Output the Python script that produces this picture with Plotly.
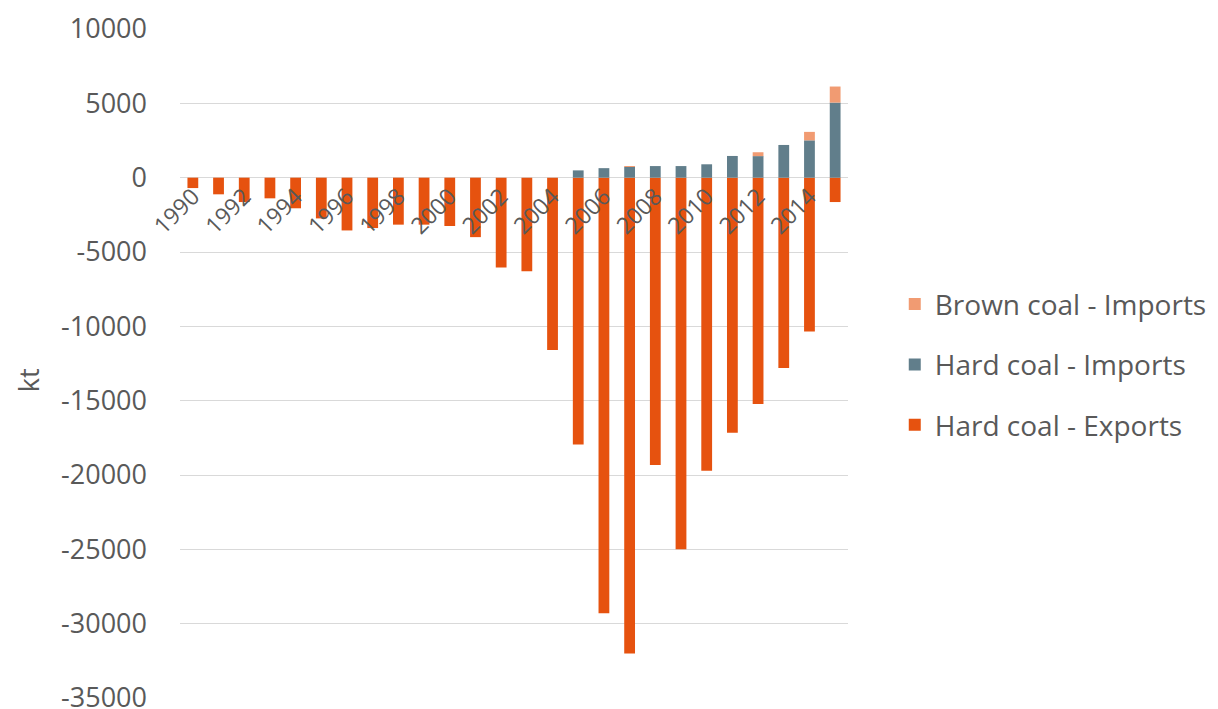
import plotly.graph_objects as go

years = list(range(1990, 2016))
hard_exports = [-700, -1120, -1640, -1390, -2060, -2740, -3550, -3390, -3160, -3160,
                -3250, -4000, -6040, -6300, -11600, -17950, -29300, -32000, -19320, -24990,
                -19720, -17160, -15230, -12810, -10340, -1640]
hard_imports = [0, 0, 0, 0, 0, 0, 0, 0, 0, 0,
                0, 0, 0, 0, 0, 490, 640, 720, 780, 780,
                900, 1460, 1450, 2200, 2510, 5050]
brown_imports = [0, 0, 0, 0, 0, 0, 0, 0, 0, 0,
                 0, 0, 0, 0, 0, 0, 0, 60, 0, 0,
                 0, 0, 260, 0, 570, 1080]
tick_years = list(range(1990, 2016, 2))
y_ticks = [10000, 5000, 0, -5000, -10000, -15000, -20000, -25000, -30000, -35000]

C_EXP = "#E6520F"
C_HARD = "#617E8B"
C_BROWN = "#F19B72"
TXT = "#595959"
FONT = "Open Sans, Noto Sans, sans-serif"

fig = go.Figure()
fig.add_trace(go.Bar(x=years, y=hard_exports, name="Hard coal - Exports",
                     marker=dict(color=C_EXP, line=dict(width=0)),
                     legendrank=3, legendgroup="g3"))
fig.add_trace(go.Bar(x=years, y=hard_imports, name="Hard coal - Imports",
                     marker=dict(color=C_HARD, line=dict(width=0)),
                     legendrank=2, legendgroup="g2"))
fig.add_trace(go.Bar(x=years, y=brown_imports, name="Brown coal - Imports",
                     marker=dict(color=C_BROWN, line=dict(width=0)),
                     legendrank=1, legendgroup="g1"))

# page body has an 8px default margin, compensate in the figure margins
fig.update_layout(
    width=1218, height=709,
    barmode="relative", bargap=0.58,
    paper_bgcolor="white", plot_bgcolor="white",
    margin=dict(l=172, r=378, t=21, b=19, autoexpand=False),
    font=dict(family=FONT, color=TXT),
    legend=dict(x=1.07, y=0.498, xanchor="left", yanchor="middle",
                traceorder="grouped", tracegroupgap=21,
                font=dict(size=28, color=TXT, family=FONT), itemwidth=30),
    xaxis=dict(range=[1989.5, 2015.5], tickmode="array", tickvals=tick_years,
               ticktext=[str(y) for y in tick_years],
               tickangle=-45, tickfont=dict(size=23, color=TXT),
               showgrid=False, zeroline=False, showline=False, ticks="",
               anchor="free", position=(0 - (-35000)) / 45000,
               automargin=False, ticklabeloverflow="allow"),
    yaxis=dict(range=[-35000, 10000], tickmode="array", tickvals=y_ticks,
               ticktext=[str(v) for v in y_ticks],
               tickfont=dict(size=27, color=TXT),
               gridcolor="#D9D9D9", gridwidth=1, zeroline=True,
               zerolinecolor="#D9D9D9", zerolinewidth=1,
               showline=False, ticks="", ticklabelstandoff=32,
               automargin=False, ticklabeloverflow="allow"),
    annotations=[dict(text="kt", xref="paper", yref="paper", x=-0.2275, y=0.475,
                      xanchor="center", yanchor="middle", textangle=-90,
                      showarrow=False, font=dict(size=27, color=TXT, family=FONT))],
)

fig.write_html("out.html")
